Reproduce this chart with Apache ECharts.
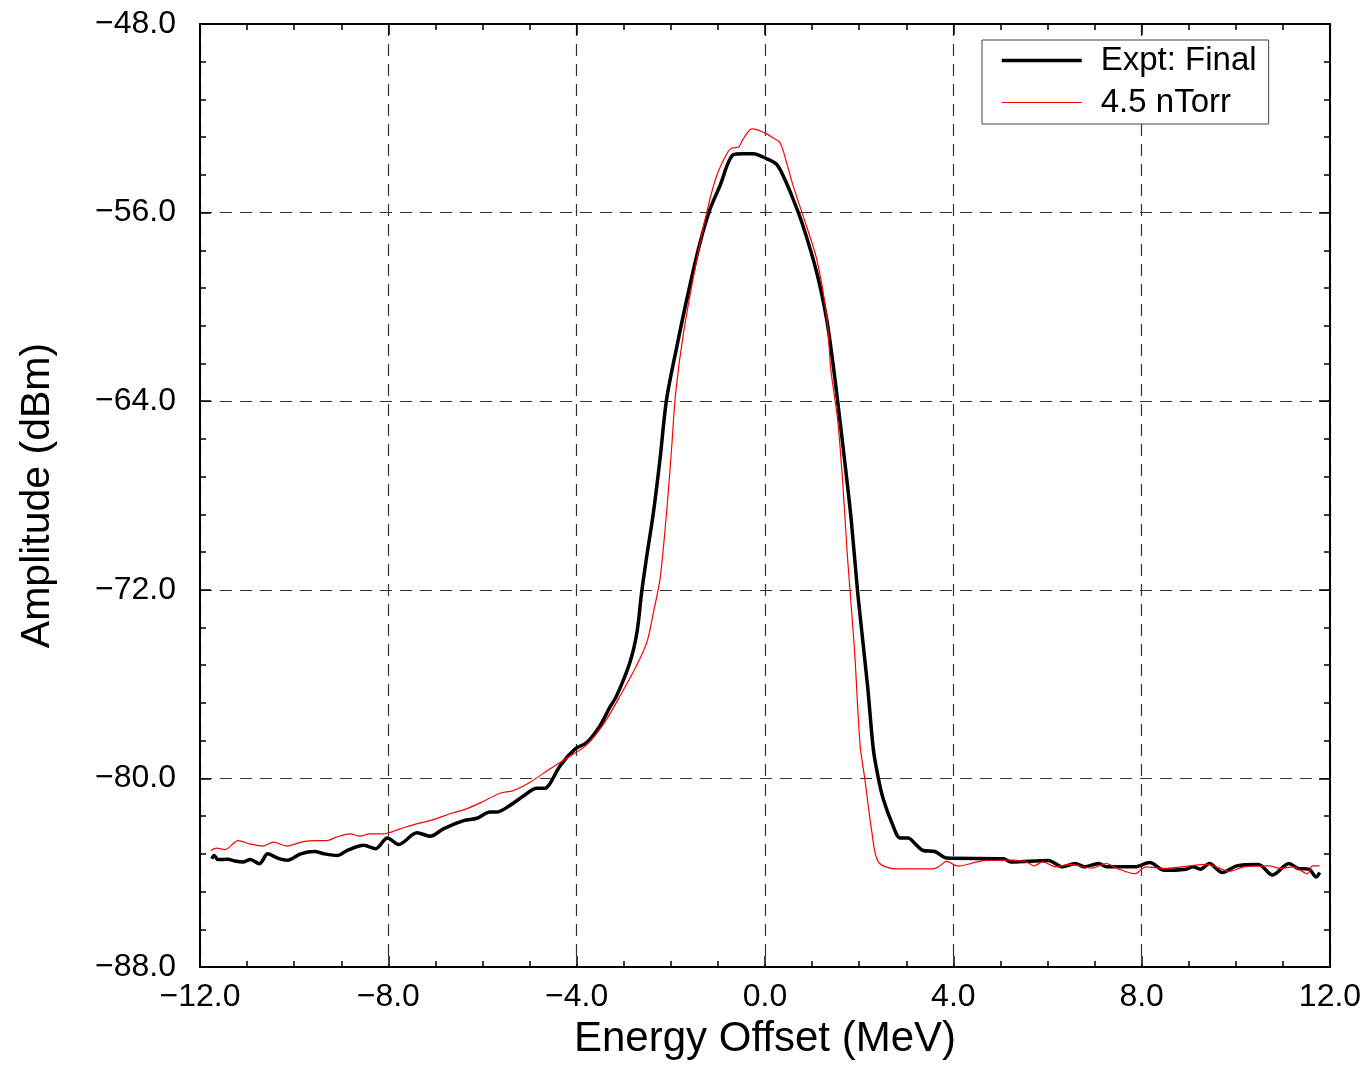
<!DOCTYPE html>
<html>
<head>
<meta charset="utf-8">
<script src="https://cdn.jsdelivr.net/npm/echarts@6/dist/echarts.min.js"></script>
<style>
  html, body { margin: 0; padding: 0; background: #fff; }
  #chart { width: 1371px; height: 1065px; }
</style>
</head>
<body>
<div id="chart"></div>
<script>
// ---- data ----
const seriesNames = ["Expt: Final", "4.5 nTorr"];

const energyFinal = [
  -11.75, -11.70, -11.62, -11.41, -11.27, -11.09, -10.93, -10.74, -10.56, -10.35,
  -10.14, -9.86, -9.57, -9.36, -9.08, -8.87, -8.52, -8.27, -8.02, -7.78,
  -7.39, -7.11, -6.83, -6.40, -6.12, -5.84, -5.70, -5.42, -5.13, -4.85,
  -4.67, -4.57, -4.35, -4.03, -3.78, -3.50, -3.30, -3.15, -2.87, -2.72,
  -2.62, -2.51, -2.37, -2.23, -2.09, -1.87, -1.63, -1.38, -1.17, -0.96,
  -0.67, -0.46, -0.25, 0.04, 0.25, 0.39, 0.60, 0.81, 1.10, 1.31,
  1.45, 1.54, 1.68, 1.83, 1.97, 2.18, 2.30, 2.41, 2.51, 2.69,
  2.87, 3.04, 3.20, 3.36, 3.61, 3.86, 5.06, 5.24,
  6.02, 6.32, 6.59, 6.78, 7.09, 7.25, 7.86, 8.17, 8.48, 8.94,
  9.09, 9.25, 9.44, 9.71, 10.02, 10.48, 10.78, 11.13, 11.32, 11.55,
  11.71, 11.78
];
const ampFinal = [
  -83.41, -83.27, -83.44, -83.43, -83.50, -83.55, -83.44, -83.62, -83.20, -83.38,
  -83.47, -83.20, -83.10, -83.20, -83.27, -83.05, -82.84, -82.98, -82.53, -82.80,
  -82.31, -82.45, -82.14, -81.79, -81.69, -81.43, -81.43, -81.15, -80.75, -80.42,
  -80.42, -80.23, -79.46, -78.75, -78.47, -77.75, -77.00, -76.49, -75.08, -73.81,
  -72.11, -70.56, -68.72, -66.46, -63.92, -61.66, -59.40, -57.28, -55.87, -54.88,
  -53.54, -53.50, -53.50, -53.72, -53.96, -54.46, -55.44, -56.58, -58.55, -60.53,
  -62.50, -63.95, -66.32, -69.00, -72.15, -76.10, -78.75, -80.02, -80.86, -81.86,
  -82.53, -82.53, -82.80, -83.06, -83.10, -83.38, -83.41, -83.55,
  -83.48, -83.75, -83.61, -83.75, -83.61, -83.75, -83.75, -83.57, -83.90, -83.85,
  -83.75, -83.85, -83.61, -83.99, -83.71, -83.65, -84.10, -83.61, -83.82, -83.85,
  -84.18, -83.99
];

const energyTorr = [
  -11.77, -11.65, -11.47, -11.19, -10.94, -10.66, -10.44, -10.16, -9.81, -9.52,
  -9.31, -9.10, -8.81, -8.60, -8.39, -8.11, -7.75, -7.40, -7.04, -6.69,
  -6.34, -6.05, -5.63, -5.35, -4.99, -4.57, -4.21, -3.80, -3.43, -3.05,
  -2.73, -2.51, -2.37, -2.23, -2.09, -1.98, -1.90, -1.73, -1.45, -1.24,
  -1.03, -0.78, -0.68, -0.57, -0.47, -0.28, -0.18, 0.03, 0.17, 0.32,
  0.46, 0.60, 0.81, 1.10, 1.31, 1.40, 1.54, 1.65, 1.75, 1.90,
  2.02, 2.12, 2.27, 2.41, 2.80, 3.57, 3.68, 3.86,
  4.10, 4.49, 4.70, 5.25, 5.55, 5.71, 5.90, 6.17, 6.48,
  6.94, 7.25, 7.48, 7.86, 8.09, 8.48, 8.86, 9.40, 9.86, 10.17,
  10.71, 10.94, 11.21, 11.52, 11.63, 11.78
];
const ampTorr = [
  -83.06, -82.96, -83.02, -82.64, -82.78, -82.87, -82.70, -82.87, -82.68, -82.64,
  -82.64, -82.49, -82.35, -82.45, -82.35, -82.35, -82.14, -81.93, -81.75, -81.50,
  -81.29, -81.04, -80.63, -80.52, -80.16, -79.60, -79.14, -78.60, -77.70, -76.40,
  -75.22, -74.23, -72.96, -71.55, -68.72, -65.90, -63.70, -61.09, -57.99, -56.01,
  -54.46, -53.40, -53.25, -53.23, -52.90, -52.45, -52.48, -52.65, -52.83, -53.04,
  -53.89, -54.88, -56.15, -57.99, -60.40, -62.70, -64.74, -67.42, -70.58, -74.52,
  -78.60, -80.02, -82.28, -83.55, -83.84, -83.84, -83.76, -83.52,
  -83.72, -83.55, -83.48, -83.47, -83.54, -83.71, -83.54, -83.75, -83.65,
  -83.80, -83.61, -83.82, -84.04, -83.75, -83.82, -83.75, -83.65, -83.94, -83.75,
  -83.71, -83.82, -83.75, -84.04, -83.71, -83.71
];

const xTickValues = [-12, -8, -4, 0, 4, 8, 12];
const yTickValues = [-88, -80, -72, -64, -56, -48];
const xTitle = "Energy Offset (MeV)";
const yTitle = "Amplitude (dBm)";

// ---- chart ----
const FONT = "'Liberation Sans', Arial, Helvetica, sans-serif";
const fmt = v => (v < 0 ? '\u2212' : '') + Math.abs(v).toFixed(1);
const zip = (xs, ys) => xs.map((x, i) => [x, ys[i]]);

const xMin = xTickValues[0], xMax = xTickValues[xTickValues.length - 1];
const xInt = xTickValues[1] - xTickValues[0];
const yMin = yTickValues[0], yMax = yTickValues[yTickValues.length - 1];
const yInt = yTickValues[1] - yTickValues[0];

const axisLine = { show: true, onZero: false, lineStyle: { color: '#000', width: 2 } };
const tick = { show: true, inside: true, length: 11, lineStyle: { color: '#000', width: 1.5 } };
const minorTick = (n) => ({ show: true, splitNumber: n, length: 6, lineStyle: { color: '#000', width: 1.5 } });
const dashed = { show: true, lineStyle: { color: '#333', width: 1.2, type: [12, 8] } };

const chart = echarts.init(document.getElementById('chart'), null, { renderer: 'canvas' });
chart.setOption({
  backgroundColor: '#fff',
  animation: false,
  textStyle: { fontFamily: FONT },
  grid: { left: 200, top: 24, width: 1130, height: 944, containLabel: false },
  legend: {
    data: [
      { name: seriesNames[0], lineStyle: { width: 3.5, color: '#000' } },
      { name: seriesNames[1], lineStyle: { width: 1.2, color: '#ff0000' } }
    ],
    orient: 'vertical',
    left: 982,
    top: 40,
    itemWidth: 80,
    itemHeight: 14,
    itemGap: 9,
    padding: [4, 12, 5, 18],
    borderColor: '#444',
    borderWidth: 1,
    backgroundColor: '#fff',
    itemStyle: { opacity: 0 },
    lineStyle: { width: 'inherit' },
    textStyle: { fontSize: 33, color: '#000', fontFamily: FONT, padding: [0, 0, 0, 14] }
  },
  xAxis: [
    {
      type: 'value', position: 'bottom', min: xMin, max: xMax, interval: xInt,
      axisLine: axisLine, axisTick: tick, minorTick: minorTick(4),
      splitLine: dashed,
      axisLabel: { formatter: fmt, fontSize: 32, color: '#000', margin: 14, fontFamily: FONT },
      name: xTitle, nameLocation: 'middle', nameGap: 51,
      nameTextStyle: { fontSize: 42, color: '#000', fontFamily: FONT }
    },
    {
      type: 'value', position: 'top', min: xMin, max: xMax, interval: xInt,
      axisLine: axisLine, axisTick: tick, minorTick: minorTick(4),
      splitLine: { show: false }, axisLabel: { show: false }
    }
  ],
  yAxis: [
    {
      type: 'value', position: 'left', min: yMin, max: yMax, interval: yInt,
      axisLine: axisLine, axisTick: tick, minorTick: minorTick(5),
      splitLine: dashed,
      axisLabel: { formatter: fmt, fontSize: 32, color: '#000', margin: 24, fontFamily: FONT },
      name: yTitle, nameLocation: 'middle', nameGap: 142, nameRotate: 90,
      nameTextStyle: { fontSize: 41, color: '#000', fontFamily: FONT }
    },
    {
      type: 'value', position: 'right', min: yMin, max: yMax, interval: yInt,
      axisLine: axisLine, axisTick: tick, minorTick: minorTick(5),
      splitLine: { show: false }, axisLabel: { show: false }
    }
  ],
  series: [
    {
      name: seriesNames[0], type: 'line', xAxisIndex: 0, yAxisIndex: 0,
      data: zip(energyFinal, ampFinal),
      symbol: 'none', showSymbol: false, smooth: 0.3,
      lineStyle: { color: '#000', width: 3.5 }, itemStyle: { color: '#000' }, z: 3
    },
    {
      name: seriesNames[1], type: 'line', xAxisIndex: 0, yAxisIndex: 0,
      data: zip(energyTorr, ampTorr),
      symbol: 'none', showSymbol: false, smooth: 0.3,
      lineStyle: { color: '#ff0000', width: 1.2 }, itemStyle: { color: '#ff0000' }, z: 4
    }
  ]
});
</script>
</body>
</html>
